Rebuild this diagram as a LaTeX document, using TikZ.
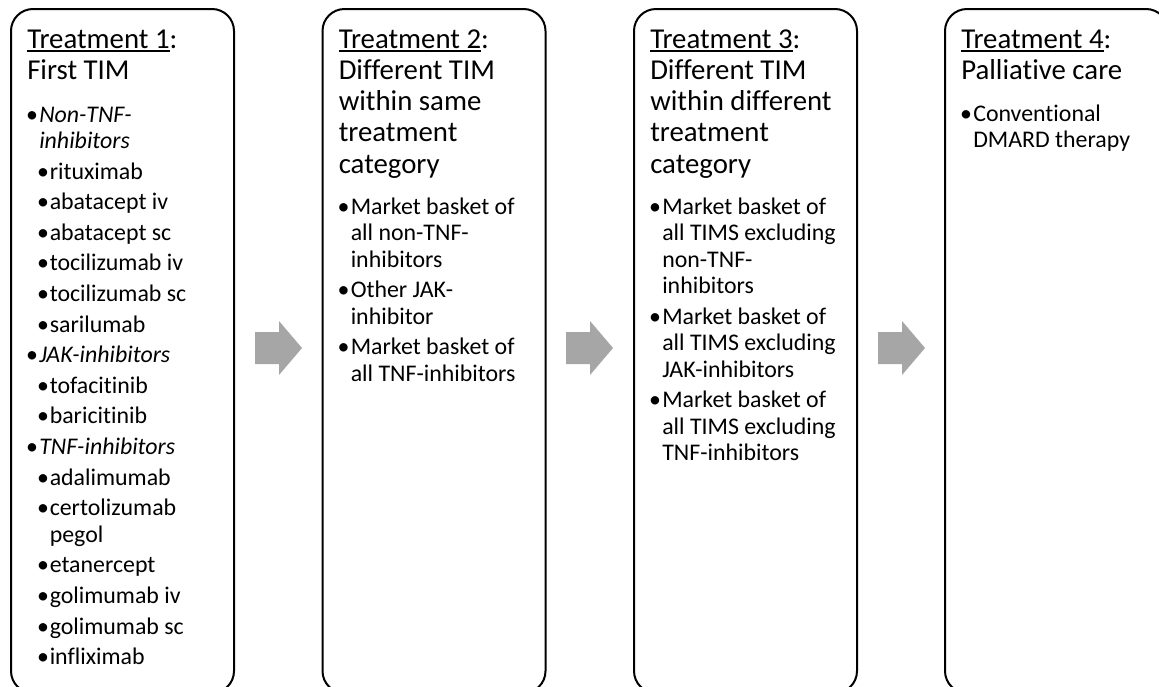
\documentclass[tikz,border=0pt]{standalone}
\usepackage{fontspec}
\setmainfont{Carlito}[Ligatures={NoCommon},RawFeature=-calt]
\newcommand\myul[1]{\setbox0\hbox{#1}\rlap{\rule[-2.8pt]{\wd0}{1.1pt}}\box0}
\definecolor{arrowgray}{HTML}{A6A6A6}
\tikzset{
  stagebox/.style={draw=black, line width=1.5pt, rounded corners=16.5pt, anchor=north west,
    minimum width=167.25pt, minimum height=513pt, inner sep=0pt},
  ttl/.style={anchor=base west, inner sep=0pt, font=\fontsize{21.6pt}{23pt}\selectfont},
  itm/.style={anchor=base west, inner sep=0pt, font=\fontsize{17.9pt}{19pt}\selectfont},
  dotb/.style={anchor=base, inner sep=0pt, font=\fontsize{17.9pt}{19pt}\selectfont},
  flowarrow/.style={fill=arrowgray, draw=none}
}
% level-1 bullet: name, box left, baseline y, text
\newcommand\bA[4]{\node[dotb] (#1d) at (#2+22,#3) {\textbullet}; \node[itm] (#1) at (#2+29,#3) {#4};}
% level-1 continuation line
\newcommand\cA[4]{\node[itm] (#1) at (#2+29,#3) {#4};}
% level-2 bullet
\newcommand\bB[4]{\node[dotb] (#1d) at (#2+33,#3) {\textbullet}; \node[itm] (#1) at (#2+39.5,#3) {#4};}
% level-2 continuation line
\newcommand\cB[4]{\node[itm] (#1) at (#2+39.5,#3) {#4};}
% title line
\newcommand\tl[4]{\node[ttl] (#1) at (#2+17,#3) {#4};}
\begin{document}
\begin{tikzpicture}[x=0.75pt,y=-0.75pt]
\useasboundingbox (0,0) rectangle (1159,686);
\clip (0,0) rectangle (1159,686);
\fill[white] (0,0) rectangle (1159,686);

% boxes
\node[stagebox] (b1) at (10,8) {};
\node[stagebox] (b2) at (321.5,8) {};
\node[stagebox] (b3) at (633,8) {};
\node[stagebox] (b4) at (944,8) {};

% arrows
\foreach \dx in {0,311,623}{
  \fill[flowarrow] (255+\dx,332) -- (279+\dx,332) -- (279+\dx,321) -- (302+\dx,348)
     -- (279+\dx,375) -- (279+\dx,364) -- (255+\dx,364) -- cycle;
}

% ---- box 1
\tl{t1a}{10}{48}{\myul{Treatment 1}:}
\tl{t1b}{10}{79.25}{First TIM}
\bA{p1}{10}{122}{\textit{Non-TNF-}}
\cA{p1c}{10}{148.5}{\textit{inhibitors}}
\bB{p2}{10}{179.1}{rituximab}
\bB{p3}{10}{209.7}{abatacept iv}
\bB{p4}{10}{240.3}{abatacept sc}
\bB{p5}{10}{270.9}{tocilizumab iv}
\bB{p6}{10}{301.5}{tocilizumab sc}
\bB{p7}{10}{332.1}{sarilumab}
\bA{p8}{10}{362.7}{\textit{JAK-inhibitors}}
\bB{p9}{10}{393.3}{tofacitinib}
\bB{p10}{10}{423.9}{baricitinib}
\bA{p11}{10}{454.5}{\textit{TNF-inhibitors}}
\bB{p12}{10}{485.1}{adalimumab}
\bB{p13}{10}{515.7}{certolizumab}
\cB{p13c}{10}{542.2}{pegol}
\bB{p14}{10}{572.8}{etanercept}
\bB{p15}{10}{603.4}{golimumab iv}
\bB{p16}{10}{634.0}{golimumab sc}
\bB{p17}{10}{664.6}{infliximab}

% ---- box 2
\tl{t2a}{321.5}{48}{\myul{Treatment 2}:}
\tl{t2b}{321.5}{79.25}{Different TIM}
\tl{t2c}{321.5}{110.5}{within same}
\tl{t2d}{321.5}{141.75}{treatment}
\tl{t2e}{321.5}{173}{category}
\bA{q1}{321.5}{214}{Market basket of}
\cA{q1b}{321.5}{240.5}{all non-TNF-}
\cA{q1c}{321.5}{267}{inhibitors}
\bA{q2}{321.5}{297.6}{Other JAK-}
\cA{q2b}{321.5}{324.1}{inhibitor}
\bA{q3}{321.5}{354.7}{Market basket of}
\cA{q3b}{321.5}{381.2}{all TNF-inhibitors}

% ---- box 3
\tl{t3a}{633}{48}{\myul{Treatment 3}:}
\tl{t3b}{633}{79.25}{Different TIM}
\tl{t3c}{633}{110.5}{within different}
\tl{t3d}{633}{141.75}{treatment}
\tl{t3e}{633}{173}{category}
\bA{r1}{633}{214}{Market basket of}
\cA{r1b}{633}{240.5}{all TIMS excluding}
\cA{r1c}{633}{267}{non-TNF-}
\cA{r1d}{633}{293.5}{inhibitors}
\bA{r2}{633}{324.1}{Market basket of}
\cA{r2b}{633}{350.6}{all TIMS excluding}
\cA{r2c}{633}{377.1}{JAK-inhibitors}
\bA{r3}{633}{407.7}{Market basket of}
\cA{r3b}{633}{434.2}{all TIMS excluding}
\cA{r3c}{633}{460.7}{TNF-inhibitors}

% ---- box 4
\tl{t4a}{944}{48}{\myul{Treatment 4}:}
\tl{t4b}{944}{79.25}{Palliative care}
\bA{s1}{944}{121}{Conventional}
\cA{s1b}{944}{147.5}{DMARD therapy}
\end{tikzpicture}
\end{document}
